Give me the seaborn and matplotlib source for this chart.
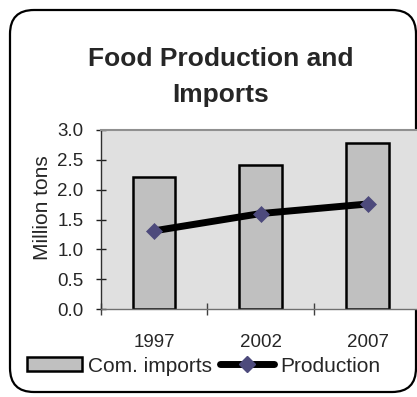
import matplotlib
matplotlib.use('Agg')
import matplotlib.pyplot as plt
import seaborn as sns
import pandas as pd
from matplotlib.patches import FancyBboxPatch, Patch
from matplotlib.lines import Line2D
from matplotlib.transforms import IdentityTransform

# ---- data ----
years = ['1997', '2002', '2007']
imports = [2.22, 2.41, 2.78]
production = [1.31, 1.60, 1.76]
y_ticks = [0.0, 0.5, 1.0, 1.5, 2.0, 2.5, 3.0]
title = 'Food Production and\nImports'
ylabel = 'Million tons'
legend_labels = ['Com. imports', 'Production']

# ---- styles ----
BAR_COLOR = '#C0C0C0'
BG_COLOR = '#E0E0E0'
MARKER_COLOR = '#4D4A7C'

sns.set_style('white')
plt.rcParams['font.family'] = ['Liberation Sans', 'DejaVu Sans']

df = pd.DataFrame({'year': years, 'imports': imports, 'production': production})

W, H = 417, 397
fig = plt.figure(figsize=(W / 100, H / 100), dpi=100)
fig.patch.set_facecolor('white')

frame = FancyBboxPatch((10, 5), 406, 382,
                       boxstyle='round,pad=0,rounding_size=24',
                       transform=IdentityTransform(), fc='white',
                       ec='black', lw=1.6, zorder=0)
fig.add_artist(frame)

left, right, top, bottom = 100.7, 421.0, 130.0, 309.0
ax = fig.add_axes([left / W, 1 - bottom / H, (right - left) / W, (bottom - top) / H])
ax.set_zorder(2)
ax.set_facecolor(BG_COLOR)

sns.barplot(data=df, x='year', y='imports', color=BAR_COLOR, edgecolor='black',
            linewidth=1.8, width=0.4, saturation=1, ax=ax, zorder=2)
sns.pointplot(data=df, x='year', y='production', color='black', markers='D',
              errorbar=None, ax=ax, linewidth=5)
for ln in ax.lines:
    ln.set_markerfacecolor(MARKER_COLOR)
    ln.set_markeredgecolor(MARKER_COLOR)
    ln.set_markersize(8.5)
    ln.set_markeredgewidth(0.5)
    ln.set_zorder(4)

ax.set_xlim(-0.5, 2.5)
ax.set_ylim(0, 3)
ax.set_yticks(y_ticks)
ax.set_yticklabels([f'{v:.1f}' for v in y_ticks], fontsize=13.5)
ax.set_xticks([-0.5, 0.5, 1.5, 2.5])
ax.set_xticklabels([])
ax.set_xticks([0, 1, 2], minor=True)
ax.set_xticklabels(years, minor=True, fontsize=13.5)
ax.tick_params(axis='x', which='minor', bottom=True, length=0, pad=18)
ax.tick_params(axis='x', which='major', bottom=True, direction='inout', length=9,
               width=1, color='#404040')
ax.tick_params(axis='y', which='major', left=True, direction='inout', length=7,
               width=1, color='#202020', pad=9)
ax.set_xlabel('')
ax.set_ylabel('')

ax.spines['top'].set_color('#909090')
ax.spines['top'].set_linewidth(1.5)
ax.spines['left'].set_color('#303030')
ax.spines['left'].set_linewidth(1.0)
ax.spines['bottom'].set_color('#707070')
ax.spines['bottom'].set_linewidth(1.0)
ax.spines['right'].set_visible(False)

fig.text(221 / W, 1 - 77 / H, title, ha='center', va='center', fontsize=19,
         fontweight='bold', linespacing=1.6)
fig.text(43 / W, 1 - 208 / H, ylabel, rotation=90, ha='center', va='center', fontsize=15)

handles = [Patch(facecolor=BAR_COLOR, edgecolor='black', linewidth=1.8),
           Line2D([], [], color='black', lw=5, marker='D', markersize=8.5,
                  markerfacecolor=MARKER_COLOR, markeredgecolor=MARKER_COLOR)]
fig.legend(handles, legend_labels, loc='center', bbox_to_anchor=(204 / W, 1 - 366 / H),
           ncol=2, frameon=False, fontsize=15, handlelength=2.6, handleheight=0.62,
           handletextpad=0.3, columnspacing=0.4, borderpad=0, borderaxespad=0)

fig.savefig('out.png', dpi=100, facecolor='white')
